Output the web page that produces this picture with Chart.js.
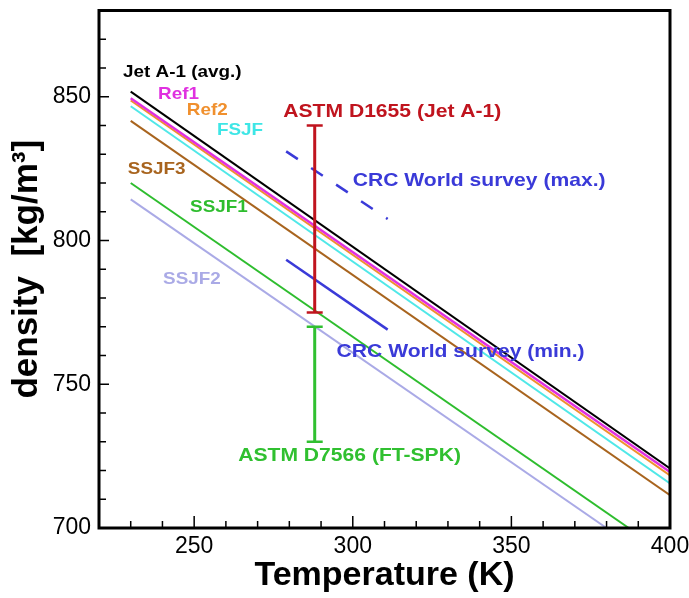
<!DOCTYPE html>
<html>
<head>
<meta charset="utf-8">
<script src="https://cdn.jsdelivr.net/npm/chart.js@4"></script>
<style>
  html, body { margin: 0; padding: 0; background: #fff; }
  canvas { display: block; }
</style>
</head>
<body>
<canvas id="chart" width="689" height="598"></canvas>
<script>
// ── Datos ────────────────────────────────────────────────────────────────────
const tempRange = [230, 400];
const jetA1 = [851.8, 720.7];
const ref1  = [849.5, 719.5];
const ref2  = [848.7, 718.3];
const fsjf  = [846.7, 715.5];
const ssjf3 = [841.6, 711.4];

const ssjf1Temp = [230, 387];
const ssjf1     = [820, 700];
const ssjf2Temp = [230, 380];
const ssjf2     = [814.3, 700];

const crcTemp = [279, 311];
const crcMax  = [831, 807.5];
const crcMin  = [793.3, 769];

const astmTemp  = 288;
const astmD1655 = [775, 840];
const astmD7566 = [730, 770];

const xTickLabels = [250, 300, 350, 400];
const yTickLabels = [700, 750, 800, 850];

// ── Helpers ─────────────────────────────────────────────────────────────────
const FONT = '"Liberation Sans", Arial, sans-serif';
const pts = (xs, ys) => ys.map((y, i) => ({ x: xs[i], y }));
const vbar = (x, ys) => ys.map(y => ({ x, y }));

function line(label, data, color, width, extra) {
  return Object.assign({
    label, data, borderColor: color, backgroundColor: color,
    borderWidth: width, showLine: true, pointRadius: 0, tension: 0,
  }, extra || {});
}

function errBar(label, data, color) {
  return line(label, data, color, 3, {
    pointStyle: 'line', pointRadius: 8, pointBorderWidth: 2.5,
    pointBorderColor: color, pointHoverRadius: 8,
  });
}

// Textos sobre el gráfico (posición en unidades de los ejes)
const LABELS = [
  { text: 'Jet A-1 (avg.)',          x: 227.6, y: 858.6, color: '#000000', size: 17 },
  { text: 'Ref1',                    x: 238.6, y: 851.0, color: '#e030e0', size: 17 },
  { text: 'Ref2',                    x: 247.7, y: 845.3, color: '#f0902e', size: 17 },
  { text: 'FSJF',                    x: 257.2, y: 838.3, color: '#3ee6e6', size: 17 },
  { text: 'SSJF3',                   x: 229.1, y: 824.6, color: '#a8641e', size: 17 },
  { text: 'SSJF1',                   x: 248.7, y: 811.4, color: '#2ebd2e', size: 17 },
  { text: 'SSJF2',                   x: 240.2, y: 786.6, color: '#aaaae6', size: 17 },
  { text: 'ASTM D1655 (Jet A-1)',    x: 278.1, y: 844.7, color: '#c0141e', size: 19 },
  { text: 'CRC World survey (max.)', x: 300.0, y: 820.9, color: '#3a3ad8', size: 19 },
  { text: 'CRC World survey (min.)', x: 294.9, y: 761.4, color: '#3a3ad8', size: 19 },
  { text: 'ASTM D7566 (FT-SPK)',     x: 263.9, y: 725.2, color: '#30c030', size: 19 },
];
const STRETCH = 1.11;   // el original está algo ensanchado en horizontal

// ── Plugin: marco, ticks interiores y etiquetas ─────────────────────────────
const framePlugin = {
  id: 'frame',
  afterDraw(chart) {
    const { ctx, chartArea: a, scales: { x, y } } = chart;
    ctx.save();
    ctx.strokeStyle = '#000';
    ctx.lineWidth = 1.5;
    ctx.beginPath();
    x.ticks.forEach(t => {
      const px = x.getPixelForValue(t.value);
      const len = t.value % 50 === 0 ? 12 : 7;
      ctx.moveTo(px, a.bottom);
      ctx.lineTo(px, a.bottom - len);
    });
    y.ticks.forEach(t => {
      const py = y.getPixelForValue(t.value);
      const len = t.value % 50 === 0 ? 10 : 7;
      ctx.moveTo(a.left, py);
      ctx.lineTo(a.left + len, py);
    });
    ctx.stroke();

    ctx.lineWidth = 3;
    ctx.strokeRect(a.left, a.top, a.right - a.left, a.bottom - a.top);

    ctx.textAlign = 'left';
    ctx.textBaseline = 'middle';
    LABELS.forEach(l => {
      ctx.save();
      ctx.translate(x.getPixelForValue(l.x), y.getPixelForValue(l.y));
      ctx.scale(STRETCH, 1);
      ctx.font = 'bold ' + l.size + 'px ' + FONT;
      ctx.fillStyle = l.color;
      ctx.fillText(l.text, 0, 0);
      ctx.restore();
    });
    ctx.restore();
  },
};

const noPad = s => { s.paddingTop = 0; s.paddingBottom = 0; s.paddingLeft = 0; s.paddingRight = 0; };

// ── Chart ───────────────────────────────────────────────────────────────────
new Chart(document.getElementById('chart').getContext('2d'), {
  type: 'scatter',
  plugins: [framePlugin],
  data: {
    datasets: [
      errBar('ASTM D1655', vbar(astmTemp, astmD1655), '#c0141e'),
      errBar('ASTM D7566', vbar(astmTemp, astmD7566), '#30c030'),
      line('CRC max', pts(crcTemp, crcMax), '#3a3ad8', 2.5, { borderDash: [14, 16] }),
      line('CRC min', pts(crcTemp, crcMin), '#3a3ad8', 2.5),
      line('Ref1',    pts(tempRange, ref1),  '#e030e0', 2.5),
      line('Jet A-1', pts(tempRange, jetA1), '#000000', 2),
      line('Ref2',    pts(tempRange, ref2),  '#f0902e', 2),
      line('FSJF',    pts(tempRange, fsjf),  '#50e8e8', 2),
      line('SSJF3',   pts(tempRange, ssjf3), '#a8641e', 2),
      line('SSJF1',   pts(ssjf1Temp, ssjf1), '#2ebd2e', 2),
      line('SSJF2',   pts(ssjf2Temp, ssjf2), '#aaaae6', 2),
    ],
  },
  options: {
    responsive: false, animation: false,
    layout: { padding: { top: 6, right: 19, left: 0, bottom: 0 } },
    plugins: { legend: { display: false }, tooltip: { enabled: false } },
    scales: {
      x: {
        type: 'linear', min: 220, max: 400,
        afterFit: s => { s.height = 70; noPad(s); },
        grid: { display: false, drawTicks: false },
        border: { display: false },
        ticks: {
          stepSize: 10, autoSkip: false, maxRotation: 0, padding: 5,
          color: '#000', font: { size: 23, family: FONT },
          callback: v => xTickLabels.includes(v) ? String(v) : '',
        },
        title: {
          display: true, text: 'Temperature (K)', color: '#000',
          font: { size: 34, weight: 'bold', family: FONT },
          padding: { top: 0, bottom: 2 },
        },
      },
      y: {
        type: 'linear', min: 700, max: 880,
        afterFit: s => { s.width = 99; noPad(s); },
        grid: { display: false, drawTicks: false },
        border: { display: false },
        ticks: {
          stepSize: 10, autoSkip: false, padding: 8,
          color: '#000', font: { size: 23, family: FONT },
          callback: v => yTickLabels.includes(v) ? String(v) : '',
        },
        title: {
          display: true, text: 'density  [kg/m³]', color: '#000',
          font: { size: 35, weight: 'bold', family: FONT },
          padding: { top: 6, bottom: 0 },
        },
      },
    },
  },
});
</script>
</body>
</html>
